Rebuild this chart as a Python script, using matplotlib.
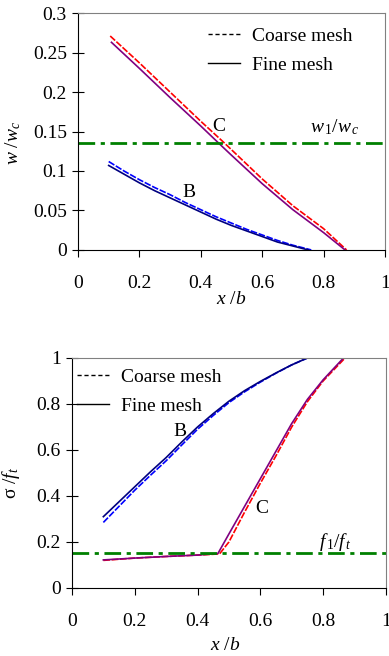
import numpy as np
import matplotlib
matplotlib.use("Agg")
import matplotlib.pyplot as plt
from matplotlib.ticker import FuncFormatter

plt.rcParams['font.family'] = ['Liberation Serif', 'DejaVu Serif']
plt.rcParams['mathtext.fontset'] = 'custom'
plt.rcParams['mathtext.rm'] = 'Liberation Serif'
plt.rcParams['mathtext.it'] = 'Liberation Serif:italic'
plt.rcParams['mathtext.cal'] = 'Liberation Serif:italic'

# ---- datos: abertura de fisura w/wc (grafico superior) ----
xB_w_fino = [0.10, 0.15, 0.20, 0.25, 0.30, 0.35, 0.40, 0.45, 0.50, 0.55, 0.60, 0.65, 0.70, 0.75]
wB_fino = [0.107, 0.096, 0.085, 0.075, 0.066, 0.057, 0.048, 0.039, 0.031, 0.024, 0.017, 0.010, 0.005, 0.0]
xB_w_grueso = [0.10, 0.15, 0.20, 0.25, 0.30, 0.35, 0.40, 0.45, 0.50, 0.55, 0.60, 0.65, 0.70, 0.76]
wB_grueso = [0.112, 0.100, 0.089, 0.079, 0.070, 0.060, 0.051, 0.042, 0.034, 0.026, 0.019, 0.012, 0.006, 0.0]

xC_w_fino = [0.109, 0.2, 0.3, 0.4, 0.47, 0.5, 0.6, 0.7, 0.8, 0.87]
wC_fino = [0.263, 0.230, 0.193, 0.157, 0.131, 0.120, 0.084, 0.051, 0.022, 0.0]
xC_w_grueso = [0.105, 0.2, 0.3, 0.4, 0.47, 0.5, 0.6, 0.7, 0.8, 0.875]
wC_grueso = [0.271, 0.237, 0.200, 0.163, 0.138, 0.127, 0.090, 0.056, 0.027, 0.0]

w1_wc = 0.135

# ---- datos: tension sigma/ft (grafico inferior) ----
xB_s = [0.10, 0.15, 0.20, 0.25, 0.30, 0.35, 0.40, 0.45, 0.50, 0.55, 0.60, 0.65, 0.70, 0.75]
sB_fino = [0.31, 0.375, 0.44, 0.505, 0.567, 0.635, 0.70, 0.758, 0.812, 0.858, 0.898, 0.935, 0.97, 1.0]
sB_grueso = [0.285, 0.355, 0.425, 0.49, 0.553, 0.622, 0.69, 0.75, 0.806, 0.853, 0.895, 0.934, 0.97, 1.0]

xC_s_fino = [0.10, 0.2, 0.3, 0.4, 0.465, 0.5, 0.55, 0.6, 0.65, 0.7, 0.75, 0.8, 0.865]
sC_fino = [0.122, 0.13, 0.137, 0.143, 0.15, 0.235, 0.355, 0.475, 0.595, 0.715, 0.82, 0.905, 1.0]
xC_s_grueso = [0.10, 0.2, 0.3, 0.4, 0.47, 0.5, 0.55, 0.6, 0.65, 0.7, 0.75, 0.8, 0.87]
sC_grueso = [0.12, 0.13, 0.137, 0.143, 0.148, 0.20, 0.33, 0.455, 0.575, 0.70, 0.81, 0.90, 1.0]

f1_ft = 0.15

xticks = [0, 0.2, 0.4, 0.6, 0.8, 1]
wticks = [0, 0.05, 0.1, 0.15, 0.2, 0.25, 0.3]
sticks = [0, 0.2, 0.4, 0.6, 0.8, 1]

rojo, morado, azul, marino, verde = '#ff0000', '#800080', '#0000ff', '#000080', '#008000'
fs = 14


def estilo_ejes(ax):
    for lado in ['top', 'right']:
        ax.spines[lado].set_color('#808080')
    for lado in ['left', 'bottom']:
        ax.spines[lado].set_color('black')
    ax.tick_params(axis='x', direction='out', length=5, pad=13, labelsize=fs)
    ax.tick_params(axis='y', direction='inout', length=8, pad=4, labelsize=fs)
    ax.xaxis.set_major_formatter(FuncFormatter(lambda v, p: '%g' % v))
    ax.yaxis.set_major_formatter(FuncFormatter(lambda v, p: '%g' % v))


fig = plt.figure(figsize=(3.89, 6.56), dpi=100)

# grafico superior
ax1 = fig.add_axes([0.2005, 0.619, 0.789, 0.361])
ax1.plot(xC_w_grueso, wC_grueso, color=rojo, lw=1.2, ls=(0, (4, 1)))
ax1.plot(xC_w_fino, wC_fino, color=morado, lw=1.2)
ax1.plot(xB_w_grueso, wB_grueso, color=azul, lw=1.2, ls=(0, (4, 1)))
ax1.plot(xB_w_fino, wB_fino, color=marino, lw=1.2)
ax1.axhline(w1_wc, color=verde, lw=2, ls=(0, (6, 2, 1.5, 2)))
l1, = ax1.plot([], [], color='black', lw=1, ls=(0, (3, 2)), label='Coarse mesh')
l2, = ax1.plot([], [], color='black', lw=1, label='Fine mesh')
ax1.legend(handles=[l1, l2], loc='upper left', bbox_to_anchor=(0.423, 0.94), frameon=False,
           fontsize=fs, borderpad=0, borderaxespad=0, handlelength=1.65, handletextpad=0.6,
           labelspacing=0.6)
ax1.text(0.457, 0.157, 'C', fontsize=fs, ha='center', va='center')
ax1.text(0.361, 0.073, 'B', fontsize=fs, ha='center', va='center')
ax1.text(0.837, 0.155, r'$w_{\,1}/w_{\,c}$', fontsize=fs, ha='center', va='center')
ax1.set_xlim(0, 1)
ax1.set_ylim(0, 0.3)
ax1.set_xticks(xticks)
ax1.set_yticks(wticks)
ax1.set_xlabel(r'$x\ /b$', fontsize=fs)
ax1.set_ylabel(r'$w\ /w_c$', fontsize=fs)
ax1.xaxis.set_label_coords(0.5, -0.175)
ax1.yaxis.set_label_coords(-0.18, 0.45)
estilo_ejes(ax1)

# grafico inferior
ax2 = fig.add_axes([0.185, 0.1037, 0.807, 0.3506])
ax2.plot(xB_s, sB_grueso, color=azul, lw=1.2, ls=(0, (4, 1)))
ax2.plot(xB_s, sB_fino, color=marino, lw=1.2)
ax2.plot(xC_s_grueso, sC_grueso, color=rojo, lw=1.2, ls=(0, (4, 1)))
ax2.plot(xC_s_fino, sC_fino, color=morado, lw=1.2)
ax2.axhline(f1_ft, color=verde, lw=2, ls=(0, (6, 2, 1.5, 2)))
l3, = ax2.plot([], [], color='black', lw=1, ls=(0, (3, 2)), label='Coarse mesh')
l4, = ax2.plot([], [], color='black', lw=1, label='Fine mesh')
ax2.legend(handles=[l3, l4], loc='upper left', bbox_to_anchor=(0.016, 0.955), frameon=False,
           fontsize=fs, borderpad=0, borderaxespad=0, handlelength=1.65, handletextpad=0.6,
           labelspacing=0.6)
ax2.text(0.343, 0.68, 'B', fontsize=fs, ha='center', va='center')
ax2.text(0.604, 0.346, 'C', fontsize=fs, ha='center', va='center')
ax2.text(0.84, 0.2, r'$f_{\,1}/f_{\,t}$', fontsize=fs, ha='center', va='center')
ax2.set_xlim(0, 1)
ax2.set_ylim(0, 1)
ax2.set_xticks(xticks)
ax2.set_yticks(sticks)
ax2.set_xlabel(r'$x\ /b$', fontsize=fs)
ax2.set_ylabel(r'$\mathrm{\sigma}\ /f_t$', fontsize=fs)
ax2.xaxis.set_label_coords(0.487, -0.215)
ax2.yaxis.set_label_coords(-0.16, 0.457)
estilo_ejes(ax2)

fig.savefig('out.png', dpi=100)
